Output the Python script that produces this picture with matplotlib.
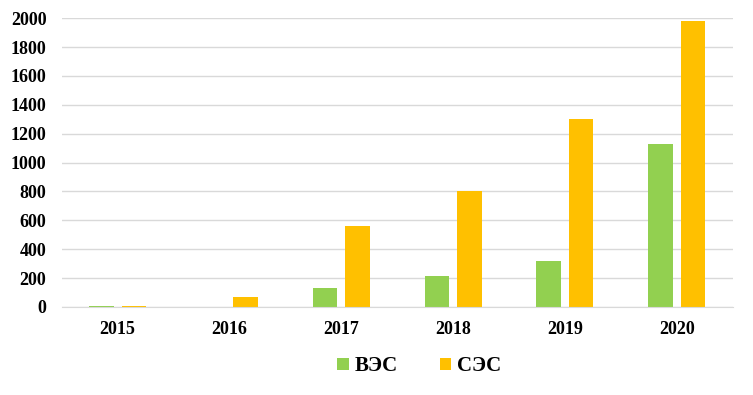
import matplotlib
matplotlib.use("Agg")
import matplotlib.pyplot as plt
import numpy as np

years = ["2015", "2016", "2017", "2018", "2019", "2020"]
wind = [3, 0, 130, 215, 315, 1130]
solar = [3, 70, 560, 800, 1300, 1980]
series_names = ["ВЭС", "СЭС"]
yticks = [0, 200, 400, 600, 800, 1000, 1200, 1400, 1600, 1800, 2000]

plt.rcParams['font.family'] = ['Liberation Serif', 'DejaVu Serif']
plt.rcParams['font.weight'] = 'bold'

fig = plt.figure(figsize=(7.53, 3.95), dpi=100)
ax = fig.add_axes([0.082, 0.223, 0.891, 0.731])

x = np.arange(len(years))
w = 0.22
gap = 0.07
ax.bar(x - (w + gap) / 2, wind, w, color='#92D050', label=series_names[0], zorder=3)
ax.bar(x + (w + gap) / 2, solar, w, color='#FFC000', label=series_names[1], zorder=3)

ax.set_xlim(-0.5, len(years) - 0.5)
ax.set_ylim(0, 2000)
ax.set_yticks(yticks)
ax.set_yticklabels([str(v) for v in yticks], fontsize=13, fontweight='bold')
ax.set_xticks(x)
ax.set_xticklabels(years, fontsize=13, fontweight='bold')
ax.tick_params(axis='both', length=0)
ax.tick_params(axis='y', pad=11)
ax.tick_params(axis='x', pad=10)
ax.grid(axis='y', color='#D9D9D9', linewidth=1, zorder=0)
for s in ['top', 'right', 'left']:
    ax.spines[s].set_visible(False)
ax.spines['bottom'].set_color('#D9D9D9')
ax.spines['bottom'].set_zorder(4)

leg = fig.legend(loc='center', bbox_to_anchor=(0.557, 0.073), ncol=2, frameon=False,
                 prop={'size': 15, 'weight': 'bold'}, handlelength=0.55, handleheight=0.55,
                 handletextpad=0.3, columnspacing=2.0)

fig.savefig("out.png", dpi=100)
